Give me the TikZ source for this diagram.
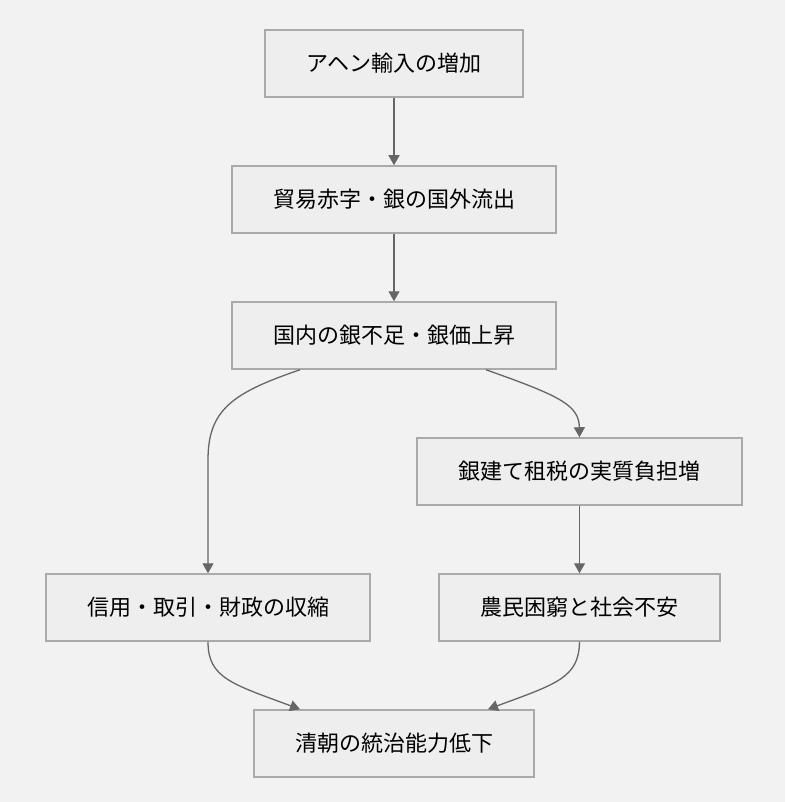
\documentclass[tikz,border=0pt]{standalone}
\usepackage{fontspec}
\setmainfont{Noto Sans CJK JP}
\usepackage{tikz}
\usetikzlibrary{arrows.meta,calc}
\definecolor{bgcol}{HTML}{F2F2F2}
\definecolor{boxfill}{HTML}{EEEEEE}
\definecolor{boxline}{HTML}{AAAAAA}
\definecolor{linkcol}{HTML}{666666}

\begin{document}
\begin{tikzpicture}
		[x=1pt,y=-1pt,
		box/.style={rectangle,draw=boxline,fill=boxfill,line width=1.5pt,
			inner sep=0pt,minimum height=67pt,
			font=\fontsize{22pt}{26pt}\selectfont},
		link/.style={draw=linkcol,line width=1.3pt,
			-{Triangle[length=10pt,width=11pt]}}]
		% background
		\fill[bgcol] (0,0) rectangle (785,802);
		\useasboundingbox (0,0) rectangle (785,802);
		%---------------------boxes------------
		\node[box,minimum width=258pt] (opium) at (394,63.5) {アヘン輸入の増加};
		\node[box,minimum width=324pt] (trade) at (394,199.5) {貿易赤字・銀の国外流出};
		\node[box,minimum width=324pt] (silver) at (394,335.5) {国内の銀不足・銀価上昇};
		\node[box,minimum width=325pt] (tax) at (579.5,471.5) {銀建て租税の実質負担増};
		\node[box,minimum width=324pt] (credit) at (208,607.5) {信用・取引・財政の収縮};
		\node[box,minimum width=281pt] (peasant) at (579.5,607.5) {農民困窮と社会不安};
		\node[box,minimum width=280pt] (qing) at (394,743.5) {清朝の統治能力低下};
		%---------------------links------------
		\draw[link] (opium) -- (trade);
		\draw[link] (trade) -- (silver);
		\draw[link] ([xshift=-94pt]silver.south) .. controls (232,393) and (208,410) .. (208,460) -- (credit.north);
		\draw[link] ([xshift=92pt]silver.south) .. controls (560,396) and (579,405) .. (tax.north);
		\draw[link] (tax) -- (peasant);
		\draw[link] (credit.south) .. controls (208,678) and (232,684) .. ([xshift=-94pt]qing.north);
		\draw[link] (peasant.south) .. controls (579,678) and (556,684) .. ([xshift=94pt]qing.north);
\end{tikzpicture}
\end{document}
